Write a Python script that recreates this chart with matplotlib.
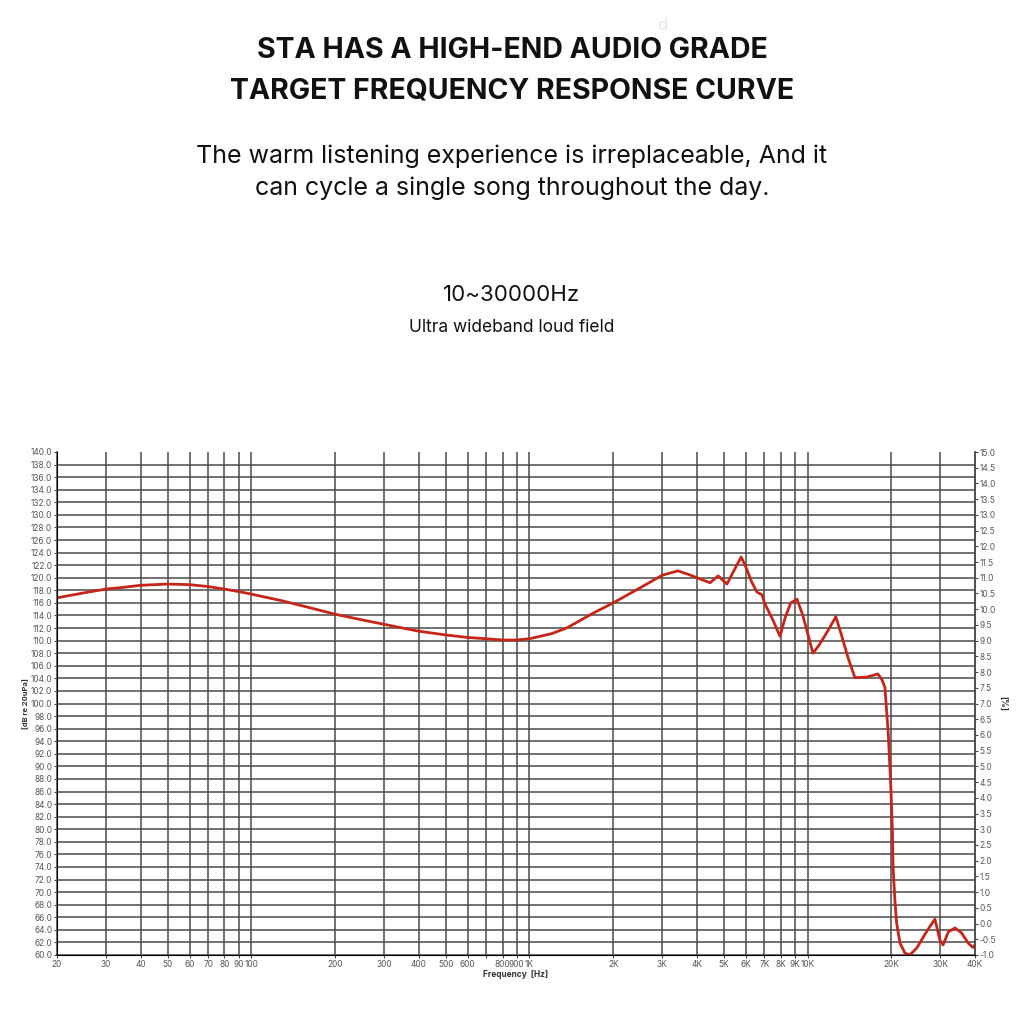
import matplotlib.pyplot as plt
from matplotlib.ticker import FixedLocator, NullLocator

plt.rcParams['font.family'] = ['Inter', 'DejaVu Sans']

# ---- data ----
freq_hz = [20, 25, 30, 35, 40, 50, 60, 70, 80, 90, 100, 130, 160, 200, 250, 300, 350,
           400, 500, 600, 700, 800, 900, 1000, 1200, 1360, 1700, 2000, 2500, 3000,
           3420, 3800, 4000, 4460, 4770, 5130, 5400, 5770, 6000, 6300, 6580, 6860, 7000,
           7500, 7960, 8300, 8700, 9160, 9600, 10000, 10460, 11000, 11700, 12640, 13300,
           14000, 14800, 16300, 17900, 18500, 18970, 19500, 19900, 20200, 20300, 20600,
           20900, 21500, 22400, 23300, 24700, 26100, 27500, 28700, 29900, 30700, 32100,
           33900, 35800, 37800, 39300, 40000]
spl_db = [116.8, 117.6, 118.2, 118.5, 118.8, 119.0, 118.9, 118.6, 118.2, 117.8, 117.4,
          116.3, 115.3, 114.2, 113.3, 112.6, 112.0, 111.5, 110.9, 110.5, 110.3, 110.1,
          110.1, 110.3, 111.1, 112.0, 114.4, 116.0, 118.4, 120.4, 121.1, 120.4, 120.0,
          119.2, 120.3, 119.0, 120.9, 123.3, 121.7, 119.3, 117.7, 117.3, 116.0, 113.3,
          110.7, 113.6, 116.0, 116.6, 114.1, 111.2, 108.0, 109.3, 111.2, 113.8, 110.6,
          107.2, 104.1, 104.2, 104.7, 103.8, 102.6, 95.3, 87.4, 79.4, 74.0, 68.8, 65.1,
          61.9, 60.3, 60.0, 61.1, 62.9, 64.5, 65.7, 62.4, 61.6, 63.7, 64.3, 63.5, 61.9,
          61.2, 61.6]

x_ticks = [20, 30, 40, 50, 60, 70, 80, 90, 100, 200, 300, 400, 500, 600, 700, 800, 900,
           1000, 2000, 3000, 4000, 5000, 6000, 7000, 8000, 9000, 10000, 20000, 30000, 40000]
x_labels = ['20', '30', '40', '50', '60', '70', '80', '90', '100', '200', '300', '400',
            '500', '600', '', '800', '900', '1K', '2K', '3K', '4K', '5K', '6K', '7K', '8K',
            '9K', '10K', '20K', '30K', '40K']
left_ticks = list(range(60, 141, 2))
right_ticks = [v / 2 for v in range(-2, 31)]

grid_c = '#4a4a4a'
lab_c = '#555555'

fig = plt.figure(figsize=(10.24, 10.24), dpi=100)
fig.patch.set_facecolor('white')

# ---- headings ----
fig.text(0.5, 1 - 50 / 1024, 'STA HAS A HIGH-END AUDIO GRADE', ha='center', va='center',
         fontsize=20.5, fontweight='bold', color='#111111')
fig.text(0.5, 1 - 91 / 1024, 'TARGET FREQUENCY RESPONSE CURVE', ha='center', va='center',
         fontsize=20.5, fontweight='bold', color='#111111')
fig.text(0.5, 1 - 156 / 1024, 'The warm listening experience is irreplaceable, And it',
         ha='center', va='center', fontsize=18, color='#111111')
fig.text(0.5, 1 - 188 / 1024, 'can cycle a single song throughout the day.',
         ha='center', va='center', fontsize=18, color='#111111')
fig.text(0.5, 1 - 295 / 1024, '10~30000Hz', ha='center', va='center',
         fontsize=16, color='#111111')
fig.text(0.5, 1 - 328 / 1024, 'Ultra wideband loud field', ha='center', va='center',
         fontsize=12.5, color='#111111')
fig.text(662 / 1024, 1 - 26 / 1024, 'd', ha='center', va='center',
         fontsize=12, color='#e6e6e6')

# ---- chart ----
ax = fig.add_axes([57 / 1024, 69 / 1024, 918 / 1024, 503 / 1024])
ax.set_xscale('log')
ax.set_xlim(20, 40000)
ax.set_ylim(60, 140)

for f in x_ticks[1:-1]:
    ax.axvline(f, color=grid_c, lw=1.1, zorder=1)
for v in left_ticks[1:-1]:
    ax.axhline(v, color=grid_c, lw=1.1, zorder=1)

ax.plot(freq_hz, spl_db, color='#c4261a', lw=2.0, zorder=3,
        solid_capstyle='round', solid_joinstyle='round')

ax.xaxis.set_major_locator(FixedLocator(x_ticks))
ax.xaxis.set_minor_locator(NullLocator())
ax.set_xticklabels(x_labels)
ax.set_yticks(left_ticks)
ax.set_yticklabels([f'{v:.1f}' for v in left_ticks])
ax.tick_params(axis='both', labelsize=6, colors=lab_c, length=2, width=0.8, pad=1.5)
ax.tick_params(axis='both', color=grid_c)
ax.spines['top'].set_visible(False)
for s in ('left', 'bottom', 'right'):
    ax.spines[s].set_color(grid_c)
    ax.spines[s].set_linewidth(1.1)
ax.set_xlabel('Frequency  [Hz]', fontsize=6, fontweight='bold', color='#333333', labelpad=1)
ax.set_ylabel('[dB re 20uPa]', fontsize=5.5, fontweight='bold', color='#333333', labelpad=1)

ax2 = ax.twinx()
ax2.set_ylim(-1, 15)
ax2.set_yticks(right_ticks)
ax2.set_yticklabels([f'{v:.1f}' for v in right_ticks])
ax2.tick_params(axis='y', labelsize=6, colors=lab_c, length=2, width=0.8, pad=1.5)
ax2.tick_params(axis='y', color=grid_c)
ax2.spines['top'].set_visible(False)
ax2.spines['right'].set_color(grid_c)
ax2.spines['right'].set_linewidth(1.1)
ax2.set_ylabel('[%]', fontsize=6, fontweight='bold', color='#333333', rotation=270, labelpad=8)

fig.savefig('out.png', dpi=100, facecolor='white')
